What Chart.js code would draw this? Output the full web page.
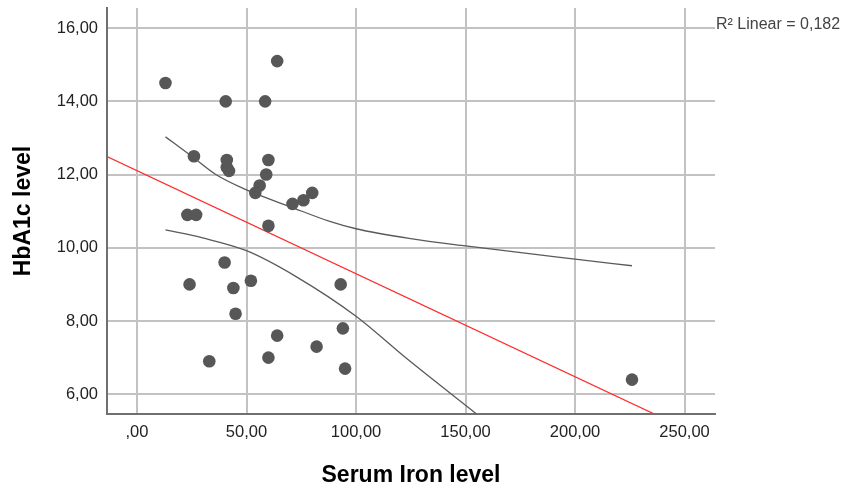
<!DOCTYPE html>
<html>
<head>
<meta charset="utf-8">
<script src="https://cdn.jsdelivr.net/npm/chart.js@4/dist/chart.umd.min.js"></script>
<style>
  html, body { margin: 0; padding: 0; background: #fff; }
  #wrap { width: 843px; height: 491px; position: relative; }
</style>
</head>
<body>
<div id="wrap"><canvas id="scatterChart"></canvas></div>
<script>
// observed values: serum iron (x) vs HbA1c (y)
const ironValues = [13, 64, 40.5, 58.5, 26, 41, 41, 42, 60, 59, 56, 54, 71, 76, 80, 23, 27, 60,
  40, 24, 44, 52, 45, 64, 33, 60, 82, 93, 94, 95, 226];
const hba1cValues = [14.5, 15.1, 14.0, 14.0, 12.5, 12.4, 12.2, 12.1, 12.4, 12.0, 11.7, 11.5, 11.2, 11.3, 11.5, 10.9, 10.9, 10.6,
  9.6, 9.0, 8.9, 9.1, 8.2, 7.6, 6.9, 7.0, 7.3, 9.0, 7.8, 6.7, 6.4];

// linear fit line (endpoints where it meets the plot edges)
const fitX = [-13.7, 236.2];
const fitY = [12.49, 5.46];

// 95% CI for the mean
const upperX = [13, 25, 36, 50, 70, 88, 100, 125, 150, 200, 226];
const upperY = [13.03, 12.5, 12.0, 11.58, 11.12, 10.72, 10.52, 10.25, 10.05, 9.69, 9.51];
const lowerX = [13, 30, 50, 73, 100, 123, 155];
const lowerY = [10.49, 10.27, 9.92, 9.2, 8.13, 6.98, 5.46];

const xTicks = [0, 50, 100, 150, 200, 250];
const yTicks = [6, 8, 10, 12, 14, 16];
const r2Label = 'R² Linear = 0,182';

const toPts = (xs, ys) => xs.map((x, i) => ({ x: x, y: ys[i] }));
const fmt = v => v === 0 ? ',00' : v.toFixed(2).replace('.', ',');

const r2Plugin = {
  id: 'r2Text',
  afterDraw(chart) {
    const ctx = chart.ctx;
    const y16 = chart.scales.y.getPixelForValue(16);
    ctx.save();
    ctx.font = '16px "Liberation Sans", Arial, sans-serif';
    ctx.fillStyle = '#444';
    ctx.textAlign = 'left';
    ctx.textBaseline = 'middle';
    ctx.fillText(r2Label, chart.chartArea.right + 1, y16 - 4);
    ctx.restore();
  }
};

const ctx = document.getElementById('scatterChart').getContext('2d');
new Chart(ctx, {
  type: 'scatter',
  data: {
    datasets: [
      {
        label: 'points',
        data: toPts(ironValues, hba1cValues),
        backgroundColor: '#575757',
        borderWidth: 0,
        pointRadius: 6.3,
        pointHoverRadius: 6.3
      },
      {
        type: 'line',
        label: 'fit',
        data: toPts(fitX, fitY),
        borderColor: '#ff2b2b',
        borderWidth: 1.3,
        pointRadius: 0,
        fill: false
      },
      {
        type: 'line',
        label: 'upper',
        data: toPts(upperX, upperY),
        borderColor: '#5a5a5a',
        borderWidth: 1.3,
        pointRadius: 0,
        cubicInterpolationMode: 'monotone',
        fill: false
      },
      {
        type: 'line',
        label: 'lower',
        data: toPts(lowerX, lowerY),
        borderColor: '#5a5a5a',
        borderWidth: 1.3,
        pointRadius: 0,
        cubicInterpolationMode: 'monotone',
        fill: false
      }
    ]
  },
  options: {
    responsive: true,
    maintainAspectRatio: false,
    animation: false,
    layout: { padding: { left: 0, right: 128, top: 8, bottom: 0 } },
    plugins: {
      legend: { display: false },
      tooltip: { enabled: false }
    },
    scales: {
      x: {
        type: 'linear',
        min: -13.7,
        max: 263.9,
        afterFit: s => { s.height = 77; s.paddingLeft = 0; s.paddingRight = 0; },
        afterBuildTicks: s => { s.ticks = xTicks.map(v => ({ value: v })); },
        ticks: {
          padding: 9,
          color: '#222',
          font: { family: '"Liberation Sans", Arial, sans-serif', size: 16.5 },
          callback: v => fmt(v)
        },
        grid: { color: '#c2c2c2', lineWidth: 2, drawTicks: false },
        border: { color: '#707070', width: 2 },
        title: {
          display: true,
          text: 'Serum Iron level',
          color: '#000',
          font: { family: '"Liberation Sans", Arial, sans-serif', size: 23, weight: 'bold' },
          padding: { top: 0, bottom: 2 }
        }
      },
      y: {
        type: 'linear',
        min: 5.46,
        max: 16.55,
        afterFit: s => { s.width = 107; s.paddingTop = 0; s.paddingBottom = 0; },
        afterBuildTicks: s => { s.ticks = yTicks.map(v => ({ value: v })); },
        ticks: {
          padding: 9,
          color: '#222',
          font: { family: '"Liberation Sans", Arial, sans-serif', size: 16.5 },
          callback: v => fmt(v)
        },
        grid: { color: '#c2c2c2', lineWidth: 2, drawTicks: false },
        border: { color: '#707070', width: 2 },
        title: {
          display: true,
          text: 'HbA1c level',
          color: '#000',
          font: { family: '"Liberation Sans", Arial, sans-serif', size: 23, weight: 'bold' },
          padding: { top: 10, bottom: 0 }
        }
      }
    }
  },
  plugins: [r2Plugin]
});
</script>
</body>
</html>
